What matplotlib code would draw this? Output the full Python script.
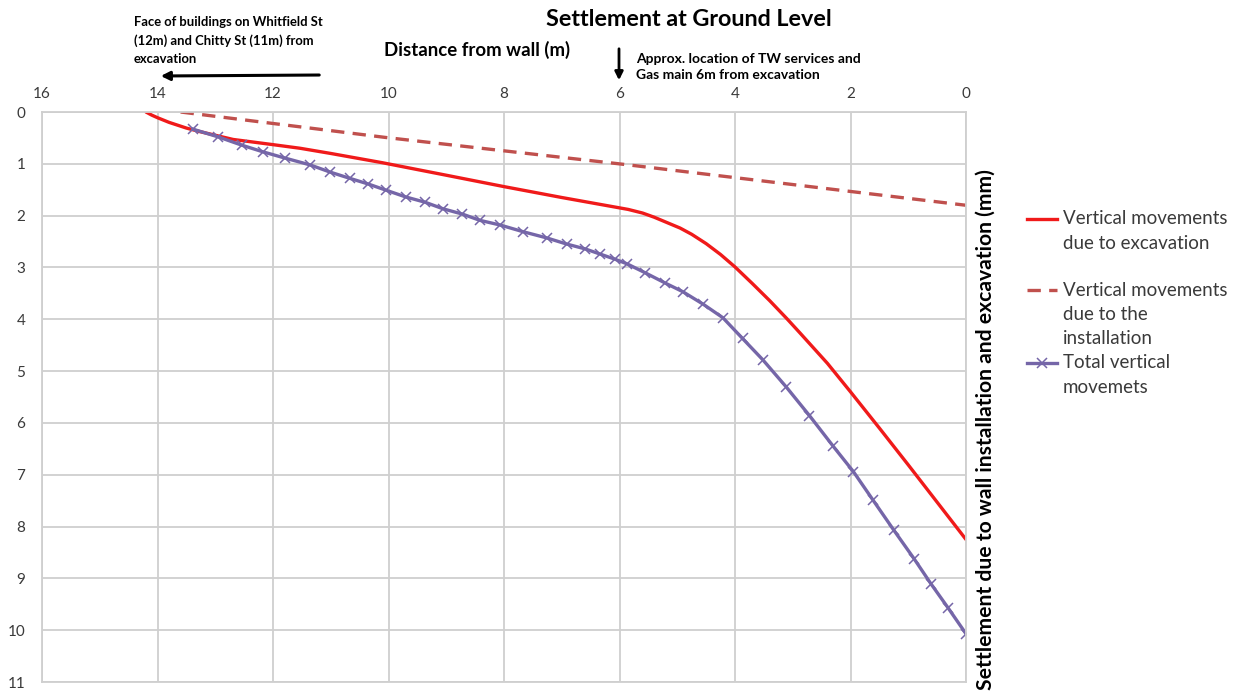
import matplotlib
matplotlib.use("Agg")
import matplotlib.pyplot as plt
from matplotlib.lines import Line2D
from matplotlib.patches import FancyArrowPatch

plt.rcParams['font.family'] = ['Lato', 'DejaVu Sans']

# Distance from wall (m) and settlement (mm) for each curve
exc_dist = [14.2, 14.1, 14.0, 13.8, 13.5, 13.26, 12.69, 12.0, 11.53, 11.0, 10.1, 9.0, 8.0,
            7.0, 6.5, 6.2, 5.85, 5.6, 5.4, 4.95, 4.75, 4.5, 4.25, 4.0, 3.7, 3.4, 3.1, 2.87,
            2.4, 2.0, 1.5, 1.0, 0.5, 0.0]
exc_settle = [0.0, 0.06, 0.11, 0.20, 0.31, 0.38, 0.53, 0.63, 0.70, 0.80, 0.98, 1.22, 1.44,
              1.65, 1.75, 1.81, 1.88, 1.95, 2.03, 2.24, 2.36, 2.54, 2.75, 2.99, 3.31, 3.64,
              3.99, 4.27, 4.85, 5.40, 6.1, 6.81, 7.53, 8.25]

inst_dist = [13.6, 10.06, 5.85, 0.0]
inst_settle = [0.0, 0.49, 1.02, 1.80]

total_dist = [13.39, 12.95, 12.54, 12.17, 11.79, 11.36, 11.01, 10.67, 10.35, 10.04,
              9.70, 9.37, 9.05, 8.72, 8.42, 8.07, 7.67, 7.26, 6.91, 6.60, 6.34,
              6.08, 5.87, 5.56, 5.21, 4.90, 4.55, 4.21, 3.87, 3.52, 3.11, 2.71,
              2.30, 1.95, 1.61, 1.25, 0.90, 0.61, 0.31, 0.0]
total_settle = [0.33, 0.48, 0.64, 0.77, 0.89, 1.02, 1.16, 1.28, 1.39, 1.51,
                1.64, 1.74, 1.87, 1.97, 2.09, 2.18, 2.31, 2.43, 2.55, 2.64, 2.74,
                2.84, 2.93, 3.10, 3.30, 3.47, 3.71, 3.97, 4.37, 4.78, 5.31, 5.86,
                6.45, 6.94, 7.49, 8.07, 8.62, 9.10, 9.57, 10.07]

x_ticks = list(range(0, 17, 2))
y_ticks = list(range(0, 12))

legend_labels = [
    ["Vertical movements", "due to excavation"],
    ["Vertical movements", "due to the", "installation"],
    ["Total vertical", "movemets"],
]

RED = "#F01A1A"
DARK_RED = "#C0504D"
PURPLE = "#7566A8"
GRID = "#CFCFCF"
TXT = "#3A3A3A"

fig = plt.figure(figsize=(12.47, 6.94), dpi=100)
ax = fig.add_axes([42 / 1247, 1 - 682 / 694, (966 - 42) / 1247, (682 - 112) / 694])

ax.plot(exc_dist, exc_settle, color=RED, lw=2.4, solid_capstyle='round',
        solid_joinstyle='round')
ax.plot(inst_dist, inst_settle, color=DARK_RED, lw=2.4, dashes=(4, 2.5))
ax.plot(total_dist, total_settle, color=PURPLE, lw=2.4, marker='x',
        markersize=7, markeredgewidth=1.1, solid_joinstyle='round')

ax.set_xlim(16, 0)
ax.set_ylim(11, 0)
ax.set_xticks(x_ticks)
ax.set_yticks(y_ticks)
ax.xaxis.tick_top()
ax.tick_params(length=0, labelsize=11, colors=TXT, pad=8)
ax.tick_params(axis='y', pad=12)
ax.grid(True, color=GRID, lw=1.3)
ax.set_axisbelow(True)
for s in ax.spines.values():
    s.set_color(GRID)
    s.set_linewidth(1.3)

# Titles
fig.text(689 / 1247, 1 - 19 / 694, "Settlement at Ground Level", ha='center', va='center',
         fontsize=16.8, fontweight='bold', color='black')
fig.text(477 / 1247, 1 - 50 / 694, "Distance from wall (m)", ha='center', va='center',
         fontsize=13.4, fontweight='bold', color='black')
fig.text(986 / 1247, 1 - 430 / 694, "Settlement due to wall installation and excavation (mm)",
         ha='center', va='center', rotation=90, fontsize=15.2, fontweight='bold', color='black')

# Annotations
fig.text(134 / 1247, 1 - 16 / 694,
         "Face of buildings on Whitfield St\n(12m) and Chitty St (11m) from\nexcavation",
         ha='left', va='top', fontsize=9.4, fontweight='bold', color='black', linespacing=1.62)
fig.add_artist(FancyArrowPatch(
    (322 / 1247, 1 - 75 / 694), (158 / 1247, 1 - 76 / 694), transform=fig.transFigure,
    arrowstyle='-|>', mutation_scale=13, lw=2.2, color='black'))

fig.text(636 / 1247, 1 - 53 / 694,
         "Approx. location of TW services and\nGas main 6m from excavation",
         ha='left', va='top', fontsize=10, fontweight='bold', color='black', linespacing=1.4)
fig.add_artist(FancyArrowPatch(
    (619 / 1247, 1 - 46 / 694), (619 / 1247, 1 - 83 / 694), transform=fig.transFigure,
    arrowstyle='-|>', mutation_scale=12, lw=2.0, color='black'))

# Legend
styles = [dict(color=RED, lw=2.4),
          dict(color=DARK_RED, lw=2.4, dashes=(4, 2.5)),
          dict(color=PURPLE, lw=2.4, marker='x', markersize=7, markeredgewidth=1.1,
               markevery=[1])]
first_rows = [219, 290, 363]
for lines, row, st in zip(legend_labels, first_rows, styles):
    yf = 1 - row / 694
    if 'marker' in st:
        xs = [1027 / 1247, 1042 / 1247, 1057 / 1247]
        ys = [yf, yf, yf]
    else:
        xs = [1027 / 1247, 1057 / 1247]
        ys = [yf, yf]
    fig.add_artist(Line2D(xs, ys, transform=fig.transFigure, **st))
    for i, line in enumerate(lines):
        fig.text(1063 / 1247, 1 - (row + 24.3 * i) / 694, line, ha='left', va='center',
                 fontsize=13.5, color=TXT)

fig.savefig("out.png", dpi=100)
